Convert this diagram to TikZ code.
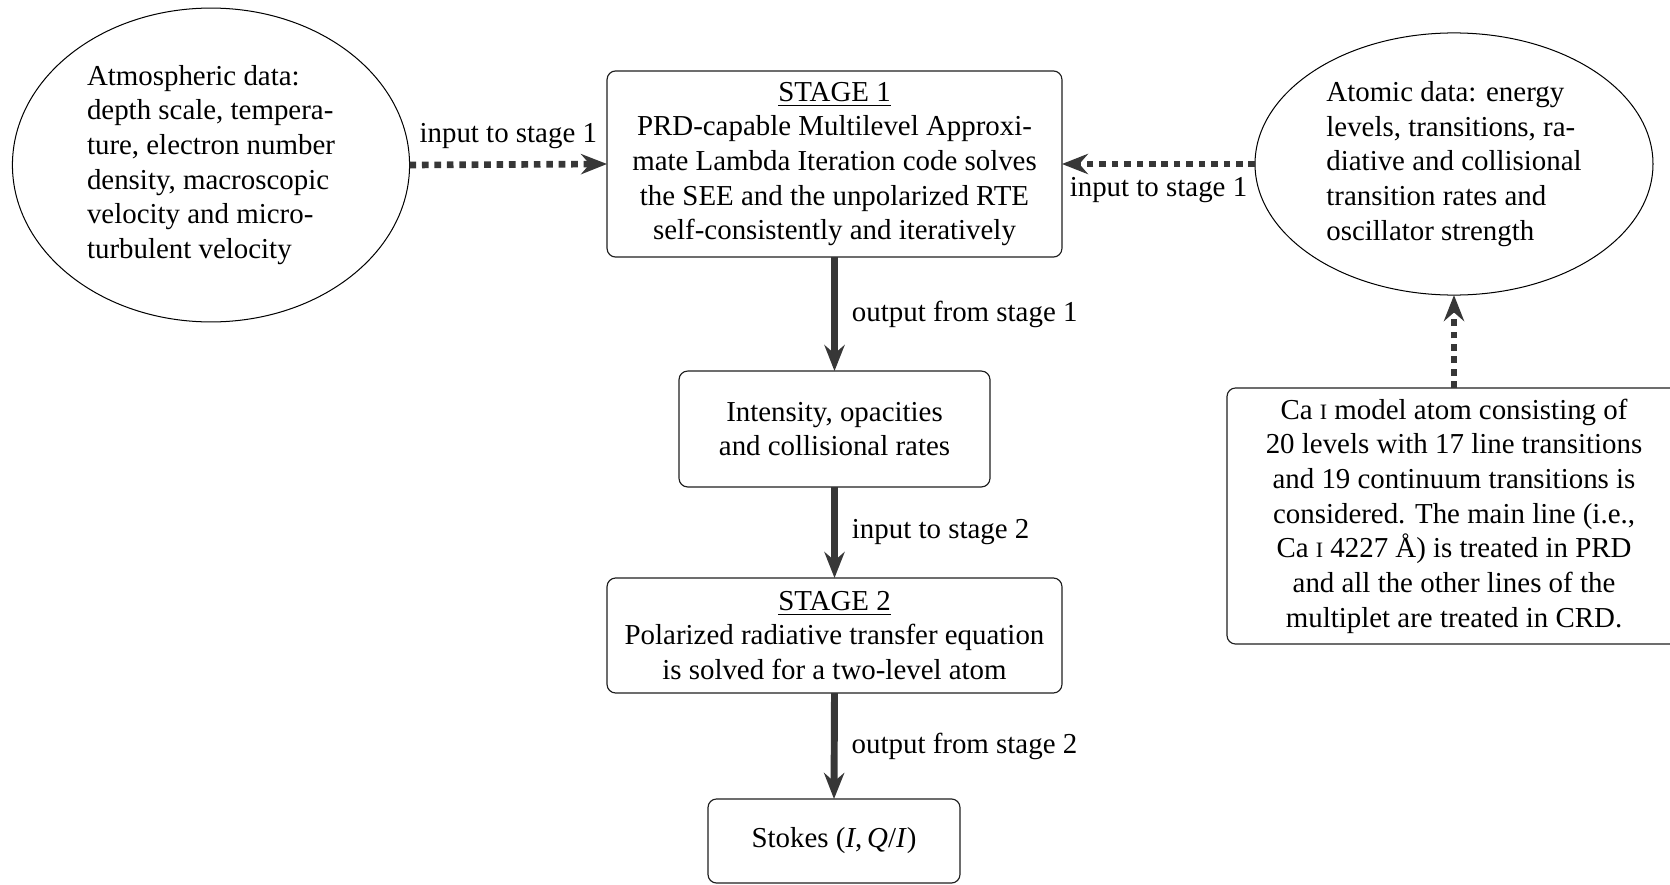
\documentclass[tikz,border=0pt]{standalone}
\usepackage{fontspec}
\setmainfont{Liberation Serif}
\usetikzlibrary{arrows.meta,shapes.geometric}
\definecolor{arrowgray}{RGB}{55,55,55}
\definecolor{framegray}{RGB}{30,30,30}
\newcommand{\smI}{{\fontsize{7.6pt}{12pt}\selectfont I}}
\tikzset{
  stagebox/.style={draw=framegray, line width=0.4pt, rounded corners=3pt, align=center,
    inner sep=0pt, outer sep=0pt, font=\fontsize{10pt}{12pt}\selectfont},
  dataell/.style={draw=black, line width=0.35pt, ellipse, align=left, inner sep=0pt,
    outer sep=0pt, font=\fontsize{10pt}{12pt}\selectfont},
  thickarrow/.style={draw=arrowgray, line width=2.4pt,
    -{Stealth[length=9pt, width=7pt, inset=3pt]}},
  dotarrow/.style={draw=arrowgray, line width=2.3pt, dash pattern=on 2.3pt off 2pt,
    -{Stealth[length=9pt, width=7pt, inset=3pt]}},
  lbl/.style={font=\fontsize{10pt}{12pt}\selectfont, text=black}
}
\begin{document}
\begin{tikzpicture}[x=0.346pt, y=-0.346pt]
\useasboundingbox (0,0) rectangle (1670,885);

% left ellipse
\node[dataell, minimum width=137.4pt, minimum height=108.6pt] (atm) at (211,165)
  {Atmospheric data:\\ depth scale, tempera-\\ ture, electron number\\ density, macroscopic\\ velocity and micro-\\ turbulent velocity};

% right ellipse
\node[dataell, minimum width=137.7pt, minimum height=90.7pt] (atomic) at (1454,164)
  {Atomic data: energy\\ levels, transitions, ra-\\ diative and collisional\\ transition rates and\\ oscillator strength};

% stage 1 box
\node[stagebox, minimum width=157.4pt, minimum height=64.4pt] (stage1) at (834.5,164)
  {\underline{STAGE 1}\\ PRD-capable Multilevel Approxi-\\ mate Lambda Iteration code solves\\ the SEE and the unpolarized RTE\\ self-consistently and iteratively};

% intensity box
\node[stagebox, minimum width=107.6pt, minimum height=40.1pt] (inten) at (834.5,429)
  {Intensity, opacities\\ and collisional rates};

% stage 2 box
\node[stagebox, minimum width=157.4pt, minimum height=39.8pt] (stage2) at (834.5,635.5)
  {\underline{STAGE 2}\\ Polarized radiative transfer equation\\ is solved for a two-level atom};

% stokes box
\node[stagebox, minimum width=87.2pt, minimum height=29.1pt] (stokes) at (834,841)
  {Stokes (\textit{I},\,\textit{Q}/\textit{I})};

% Ca I box
\node[stagebox, minimum width=157.1pt, minimum height=88.6pt] (caatom) at (1454,516)
  {Ca \smI{} model atom consisting of\\ 20 levels with 17 line transitions\\ and 19 continuum transitions is\\ considered. The main line (i.e.,\\ Ca \smI{} 4227 Å) is treated in PRD\\ and all the other lines of the\\ multiplet are treated in CRD.};

% connectors
\draw[dotarrow] (atm.east) -- node[lbl, above, yshift=1pt] {input to stage 1} (stage1.west);
\draw[dotarrow] (atomic.west) -- node[lbl, below] {input to stage 1} (stage1.east);
\draw[dotarrow] (caatom.north) -- (atomic.south);
\draw[thickarrow] (stage1.south) -- node[lbl, right, xshift=1.5pt] {output from stage 1} (inten.north);
\draw[thickarrow] (inten.south) -- node[lbl, right, xshift=1.5pt] {input to stage 2} (stage2.north);
\draw[thickarrow] (stage2.south) -- node[lbl, right, xshift=1.5pt] {output from stage 2} (stokes.north);
\end{tikzpicture}
\end{document}
